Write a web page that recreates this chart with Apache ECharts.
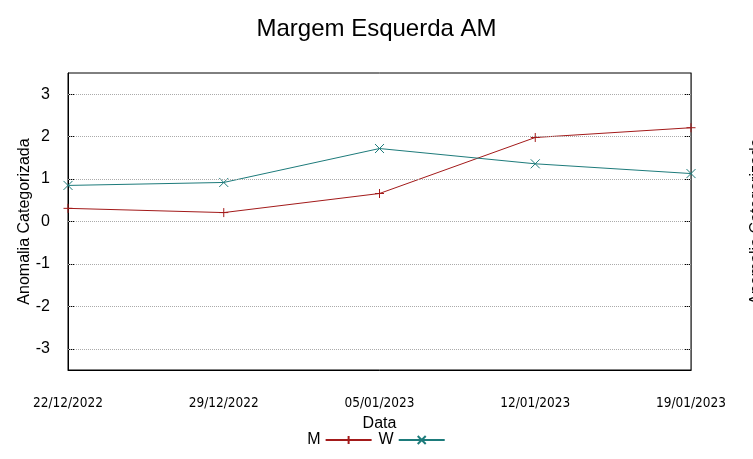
<!DOCTYPE html>
<html><head><meta charset="utf-8">
<script src="https://cdn.jsdelivr.net/npm/echarts@6/dist/echarts.min.js"></script>
<style>html,body{margin:0;padding:0;background:#fff}#c{width:753px;height:459px}</style>
</head><body><div id="c"></div>
<script>
const dates = ['22/12/2022','29/12/2022','05/01/2023','12/01/2023','19/01/2023'];
const seriesM = [0.31, 0.21, 0.66, 1.98, 2.21];
const seriesW = [0.85, 0.92, 1.72, 1.36, 1.13];
const yTicks = [-3,-2,-1,0,1,2,3];
const colorM = '#a31a1a';
const colorW = '#1d7b7b';
const font = 'Liberation Sans';
const chart = echarts.init(document.getElementById('c'));
const plusSym = 'path://M0,-5L0,5M-5,0L5,0';
const crossSym = 'path://M-5,-5L5,5M-5,5L5,-5';
chart.setOption({
  animation:false,
  backgroundColor:'#fff',
  title:{text:'Margem Esquerda AM',left:'center',top:12,textStyle:{fontFamily:font,fontSize:24,fontWeight:'normal',color:'#000'}},
  grid:{left:68,right:62,top:73,bottom:89,show:true,borderColor:'#000',borderWidth:1,outerBoundsMode:'none',containLabel:false},
  legend:{bottom:6,left:'center',align:'right',itemWidth:46,itemHeight:10,itemGap:6,
    textStyle:{fontFamily:font,fontSize:16,color:'#000'},
    data:[{name:'M'},{name:'W'}]},
  xAxis:{type:'category',data:dates,boundaryGap:false,
    name:'Data',nameLocation:'middle',nameGap:46,nameMoveOverlap:false,nameTextStyle:{fontFamily:font,fontSize:16,color:'#000'},
    axisLine:{onZero:false,lineStyle:{color:'#000'}},axisTick:{show:false},
    axisLabel:{margin:26,fontFamily:'DejaVu Sans Condensed, Liberation Sans',fontSize:13.5,color:'#000'},
    splitLine:{show:false}},
  yAxis:[{type:'value',min:-3.5,max:3.5,interval:0.5,
    name:'Anomalia Categorizada',nameLocation:'middle',nameGap:35,nameRotate:90,nameMoveOverlap:false,
    nameTextStyle:{fontFamily:font,fontSize:16,color:'#000'},
    axisLine:{show:true,lineStyle:{color:'#000'}},
    axisTick:{show:true,inside:true,length:6,lineStyle:{color:'#000'},
      customValues:yTicks},
    axisLabel:{margin:18,fontFamily:font,fontSize:16,color:'#000',
      customValues:yTicks,
      formatter:v=>yTicks.includes(v)?String(v):''},
    splitLine:{show:false}},
   {type:'value',min:-3.5,max:3.5,interval:0.5,position:'right',
    name:'Anomalia Categorizada',nameLocation:'middle',nameGap:58,nameRotate:90,nameMoveOverlap:false,
    nameTextStyle:{fontFamily:font,fontSize:16,color:'#000'},
    axisLine:{show:true,lineStyle:{color:'#555'}},
    axisTick:{show:true,inside:true,length:6,lineStyle:{color:'#000'},customValues:yTicks},
    axisLabel:{show:false},splitLine:{show:false}}],
  series:[
    {type:'line',name:'M',data:seriesM,symbol:plusSym,symbolSize:9,showSymbol:true,
     lineStyle:{color:colorM,width:1},itemStyle:{color:'none',borderColor:colorM,borderWidth:1},
     z:3},
    {type:'line',name:'W',data:seriesW,symbol:crossSym,symbolSize:9,showSymbol:true,
     lineStyle:{color:colorW,width:1},itemStyle:{color:'none',borderColor:colorW,borderWidth:1},
     z:3},
    {type:'line',data:[],markLine:{silent:true,symbol:'none',label:{show:false},
      lineStyle:{color:'#aaa',type:'dotted',width:1},
      data:yTicks.map(v=>({yAxis:v}))}}
  ]
});
</script></body></html>
